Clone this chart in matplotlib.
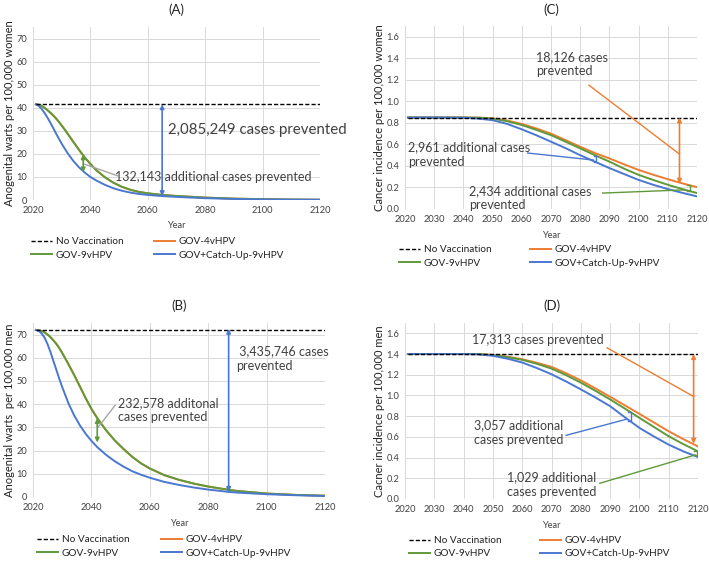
import numpy as np
import matplotlib
matplotlib.use("Agg")
import matplotlib.pyplot as plt

plt.rcParams['font.family'] = ['Lato', 'DejaVu Sans']

# Dati

# (A) verruche anogenitali, donne
anni_a = [2021, 2022, 2023, 2024, 2025, 2026, 2027, 2028, 2029, 2030, 2032, 2034, 2036, 2038, 2040,
          2042, 2045, 2048, 2051, 2054, 2057, 2060, 2065, 2070, 2075, 2080, 2090, 2100, 2110, 2120]
nv_a = 41.5
v9_a = [41.5, 41.3, 40.8, 40.0, 39.0, 37.9, 36.7, 35.4, 33.9, 32.3, 28.9, 25.3, 21.8, 18.5, 15.6,
        13.0, 9.9, 7.5, 5.7, 4.4, 3.5, 2.9, 2.2, 1.75, 1.4, 1.05, 0.6, 0.35, 0.2, 0.12]
cu_a = [41.5, 40.8, 39.5, 37.8, 35.8, 33.6, 31.3, 28.9, 26.6, 24.4, 20.4, 17.0, 14.2, 11.9, 10.0,
        8.5, 6.6, 5.1, 4.0, 3.2, 2.6, 2.2, 1.7, 1.35, 1.05, 0.8, 0.45, 0.25, 0.15, 0.1]
v4_a = v9_a

# (B) verruche anogenitali, uomini
anni_b = [2021, 2022, 2023, 2024, 2025, 2026, 2027, 2028, 2029, 2030, 2032, 2034, 2036, 2038, 2040,
          2042, 2045, 2048, 2051, 2054, 2057, 2060, 2065, 2070, 2075, 2080, 2087, 2090, 2100, 2110, 2120]
nv_b = 72
v9_b = [72, 71.9, 71.5, 70.9, 70.0, 68.9, 67.5, 66.0, 64.2, 62.1, 57.6, 52.8, 47.8, 42.7, 38.0,
        34.0, 28.8, 24.4, 20.7, 17.3, 14.5, 12.3, 9.4, 7.4, 5.8, 4.5, 3.1, 2.6, 1.5, 0.9, 0.55]
cu_b = [72, 71.6, 70.4, 68.6, 65.8, 62.4, 58.6, 54.8, 51.0, 47.4, 40.8, 35.4, 31.0, 27.3, 24.2,
        21.5, 18.2, 15.4, 13.1, 11.1, 9.6, 8.3, 6.5, 5.2, 4.1, 3.2, 2.2, 1.9, 1.2, 0.75, 0.45]
v4_b = v9_b

# (C) cancro, donne
anni_c = [2021, 2030, 2040, 2045, 2050, 2055, 2060, 2065, 2070, 2075, 2080, 2085, 2090, 2095, 2100, 2105, 2110, 2115, 2120]
nv_c = 0.85
v4_c = [0.85, 0.85, 0.85, 0.849, 0.843, 0.822, 0.79, 0.748, 0.70, 0.64, 0.578, 0.52, 0.47, 0.415, 0.363, 0.318, 0.277, 0.238, 0.203]
v9_c = [0.85, 0.85, 0.85, 0.848, 0.84, 0.815, 0.78, 0.735, 0.686, 0.625, 0.563, 0.50, 0.44, 0.375, 0.317, 0.27, 0.225, 0.185, 0.148]
cu_c = [0.85, 0.85, 0.848, 0.84, 0.825, 0.79, 0.74, 0.685, 0.625, 0.565, 0.50, 0.44, 0.38, 0.325, 0.27, 0.225, 0.185, 0.15, 0.117]

# (D) cancro, uomini
anni_d = anni_c
nv_d = 1.4
v4_d = [1.40, 1.40, 1.40, 1.40, 1.392, 1.375, 1.35, 1.316, 1.276, 1.215, 1.146, 1.068, 0.988, 0.905, 0.823, 0.738, 0.654, 0.578, 0.508]
v9_d = [1.40, 1.40, 1.40, 1.40, 1.39, 1.37, 1.344, 1.306, 1.26, 1.196, 1.124, 1.045, 0.962, 0.874, 0.784, 0.695, 0.606, 0.53, 0.46]
cu_d = [1.40, 1.40, 1.40, 1.397, 1.383, 1.355, 1.318, 1.265, 1.205, 1.135, 1.059, 0.98, 0.897, 0.79, 0.687, 0.603, 0.525, 0.46, 0.405]

etichette = ["No Vaccination", "GOV-9vHPV", "GOV-4vHPV", "GOV+Catch-Up-9vHPV"]

ARANCIO = "#ED7D31"
VERDE = "#5E9A3A"
BLU = "#4A78D0"
GRIGIO = "#A6A6A6"
TESTO = "#404040"

fig = plt.figure(figsize=(7.09, 5.62), dpi=100)
W, H = 709, 562


def asse(l, t, r, b):
    return fig.add_axes([l / W, 1 - b / H, (r - l) / W, (b - t) / H])


def prepara(ax, titolo, ylab, xstep, ymax, ystep, fmt):
    ax.set_xlim(2020, 2120)
    ax.set_ylim(0, ymax)
    ax.set_xticks(np.arange(2020, 2121, xstep))
    yt = np.arange(0, ymax - ystep / 4, ystep)
    ax.set_yticks(yt)
    ax.set_yticklabels([fmt.format(v) for v in yt])
    ax.grid(True, color="#D9D9D9", lw=0.7)
    ax.set_axisbelow(True)
    for s in ax.spines.values():
        s.set_visible(False)
    ax.tick_params(length=0, labelsize=6.7, colors="#404040", pad=4)
    ax.set_title(titolo, fontsize=9.5, pad=9, color="#222222")
    ax.set_xlabel("Year", fontsize=6.7, color="#404040", labelpad=5)
    ax.set_ylabel(ylab, fontsize=8, color="#222222", labelpad=1)


def curve(ax, anni, nv, v4, v9, cu):
    h0, = ax.plot([2021, 2120], [nv, nv], color="black", lw=1.0, ls=(0, (3, 1.5)), zorder=3)
    h4, = ax.plot(anni, v4, color=ARANCIO, lw=1.4, zorder=2)
    h9, = ax.plot(anni, v9, color=VERDE, lw=1.4, zorder=2)
    hc, = ax.plot(anni, cu, color=BLU, lw=1.4, zorder=2)
    return [h0, h9, h4, hc]


def freccia(ax, x, y1, y2, col):
    ax.annotate("", xy=(x, y1), xytext=(x, y2),
                arrowprops=dict(arrowstyle="<|-|>", color=col, lw=1.2,
                                mutation_scale=6, shrinkA=0, shrinkB=0), zorder=4)


def parentesi(ax, x, y1, y2, col, dx=0.9):
    ax.plot([x - dx, x, x, x - dx], [y1, y1, y2, y2], color=col, lw=1.0, zorder=4)


def legenda(ax, handles, x, y, sp):
    ax.legend(handles, etichette, ncol=2, frameon=False, fontsize=7.2,
              loc="upper left", bbox_to_anchor=(x / W, 1 - y / H),
              bbox_transform=fig.transFigure, borderaxespad=0, borderpad=0,
              handlelength=2.1, handletextpad=0.4, columnspacing=sp,
              labelspacing=0.45, labelcolor="#222222")


# ---- (A)
axA = asse(33, 27, 320, 200)
prepara(axA, "(A)", "Anogenital warts per 100,000 women", 20, 75, 10, "{:.0f}")
hA = curve(axA, anni_a, nv_a, v4_a, v9_a, cu_a)
freccia(axA, 2065, np.interp(2065, anni_a, cu_a), nv_a, BLU)
freccia(axA, 2037.5, 12.0, 19.8, VERDE)
axA.plot([2038, 2049.5], [15.5, 10.5], color=GRIGIO, lw=1.0, zorder=3)
axA.text(2067.2, 30.2, "2,085,249 cases prevented", fontsize=10.8, color=TESTO, va="center")
axA.text(2048.5, 9.8, "132,143 additional cases prevented", fontsize=9, color=TESTO, va="center")
legenda(axA, hA, 31, 237, 3.0)

# ---- (C)
axC = asse(405, 26, 697, 209)
prepara(axC, "(C)", "Cancer incidence per 100,000 women", 10, 1.7, 0.2, "{:.1f}")
hC = curve(axC, anni_c, nv_c, v4_c, v9_c, cu_c)
freccia(axC, 2114, np.interp(2114, anni_c, v4_c) - 0.01, nv_c, ARANCIO)
axC.plot([2083, 2114], [1.15, 0.51], color=ARANCIO, lw=1.0, zorder=3)
parentesi(axC, 2085.5, np.interp(2085.5, anni_c, cu_c), np.interp(2085.5, anni_c, v9_c), BLU)
axC.plot([2062, 2084.5], [0.52, 0.455], color=BLU, lw=1.0, zorder=3)
parentesi(axC, 2117.5, np.interp(2117.5, anni_c, v9_c), np.interp(2117.5, anni_c, v4_c), VERDE)
axC.plot([2087.7, 2116], [0.148, 0.178], color=VERDE, lw=1.0, zorder=3)
axC.text(2065, 1.345, "18,126 cases\nprevented", fontsize=9, color=TESTO, va="center", linespacing=1.25)
axC.text(2021, 0.505, "2,961 additional cases\nprevented", fontsize=9, color=TESTO, va="center", linespacing=1.25)
axC.text(2042, 0.10, "2,434 additional cases\nprevented", fontsize=9, color=TESTO, va="center", linespacing=1.25)
legenda(axC, hC, 399, 245, 3.8)

# ---- (B)
axB = asse(33, 323, 325, 497)
prepara(axB, "(B)", "Anogenital warts  per 100,000 men", 20, 75, 10, "{:.0f}")
hB = curve(axB, anni_b, nv_b, v4_b, v9_b, cu_b)
freccia(axB, 2087, np.interp(2087, anni_b, cu_b), nv_b + 0.5, BLU)
freccia(axB, 2042, 23.5, 34.0, VERDE)
axB.plot([2042.4, 2048.1], [30.2, 39.5], color=GRIGIO, lw=1.0, zorder=3)
axB.text(2089.5, 59.7, " 3,435,746 cases\nprevented", fontsize=9, color=TESTO, va="center", linespacing=1.25)
axB.text(2049.2, 37.5, "232,578 additonal\ncases prevented", fontsize=9, color=TESTO, va="center", linespacing=1.25)
legenda(axB, hB, 37, 535, 3.1)

# ---- (D)
axD = asse(405, 323, 698, 499)
prepara(axD, "(D)", "Cacner incidence per 100,000 men", 10, 1.7, 0.2, "{:.1f}")
hD = curve(axD, anni_d, nv_d, v4_d, v9_d, cu_d)
freccia(axD, 2118.5, np.interp(2118.5, anni_d, v4_d) + 0.005, nv_d, ARANCIO)
axD.plot([2089, 2118.5], [1.46, 0.99], color=ARANCIO, lw=1.0, zorder=3)
parentesi(axD, 2097, np.interp(2097, anni_d, cu_d), np.interp(2097, anni_d, v9_d), BLU)
axD.plot([2075, 2095.5], [0.615, 0.77], color=BLU, lw=1.0, zorder=3)
parentesi(axD, 2119.6, np.interp(2119.6, anni_d, cu_d) + 0.015, np.interp(2119.6, anni_d, v9_d), VERDE)
axD.plot([2086.5, 2119], [0.152, 0.425], color=VERDE, lw=1.0, zorder=3)
axD.text(2042.8, 1.535, "17,313 cases prevented", fontsize=9, color=TESTO, va="center")
axD.text(2043.5, 0.644, "3,057 additional\ncases prevented", fontsize=9, color=TESTO, va="center", linespacing=1.25)
axD.text(2054.8, 0.14, "1,029 additional\ncases prevented", fontsize=9, color=TESTO, va="center", linespacing=1.25)
legenda(axD, hD, 409, 536, 3.8)

fig.savefig("out.png", dpi=100)
